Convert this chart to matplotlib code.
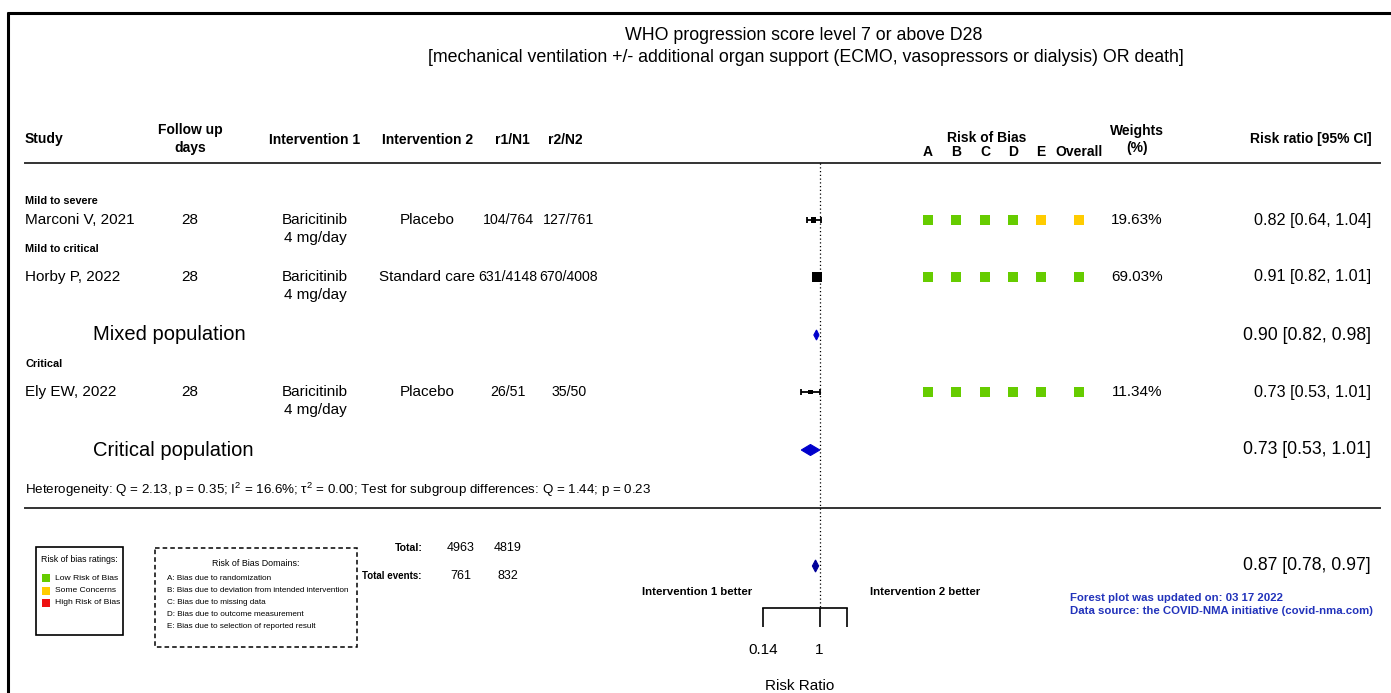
import numpy as np
import matplotlib.pyplot as plt
from matplotlib.patches import Rectangle, Polygon

plt.rcParams['font.family'] = ['Liberation Sans', 'DejaVu Sans']
plt.rcParams['mathtext.fontset'] = 'custom'
plt.rcParams['mathtext.rm'] = 'Liberation Sans'
plt.rcParams['mathtext.it'] = 'Liberation Sans:italic'

# data
subgroups = ['Mild to severe', 'Mild to critical', 'Critical']
studies = ['Marconi V, 2021', 'Horby P, 2022', 'Ely EW, 2022']
follow_up = [28, 28, 28]
intervention1 = ['Baricitinib', 'Baricitinib', 'Baricitinib']
dose = ['4 mg/day', '4 mg/day', '4 mg/day']
intervention2 = ['Placebo', 'Standard care', 'Placebo']
r1_n1 = ['104/764', '631/4148', '26/51']
r2_n2 = ['127/761', '670/4008', '35/50']
rr = np.array([0.82, 0.91, 0.73])
ci_lo = np.array([0.64, 0.82, 0.53])
ci_hi = np.array([1.04, 1.01, 1.01])
weights = [19.63, 69.03, 11.34]
rob = [['L', 'L', 'L', 'L', 'S', 'S'],
       ['L', 'L', 'L', 'L', 'L', 'L'],
       ['L', 'L', 'L', 'L', 'L', 'L']]
rob_cols = ['A', 'B', 'C', 'D', 'E', 'Overall']

pooled_names = ['Mixed population', 'Critical population']
pooled_rr = [0.90, 0.73]
pooled_lo = [0.82, 0.53]
pooled_hi = [0.98, 1.01]
overall_rr, overall_lo, overall_hi = 0.87, 0.78, 0.97
totals = [4963, 4819]
total_events = [761, 832]
xticks = [0.14, 1, 2.6]
xtick_labels = ['0.14', '1', '']

rob_colors = {'L': '#66CC00', 'S': '#FFCC00', 'H': '#EE1111'}
blue = '#0000CC'

# layout (pixel positions)
W, H = 1391, 693
study_y = [220, 277, 392]
sub_y = [201, 249, 364]
pooled_y = [335, 450]
col_fu, col_i1, col_i2 = 190, 315, 427
col_r1, col_r2 = 508, 569
rob_x = [928, 956, 985, 1013, 1041, 1079]
col_w, col_rr = 1137, 1371

fig = plt.figure(figsize=(W / 100, H / 100), dpi=100)
ax = fig.add_axes([0, 0, 1, 1])
ax.set_xlim(0, W)
ax.set_ylim(H, 0)
ax.axis('off')

# frame
ax.plot([7, W], [12.5, 12.5], color='k', lw=2.2, solid_capstyle='butt')
ax.plot([7.5, 7.5], [12, H], color='k', lw=2.2, solid_capstyle='butt')

# title
ax.text(804, 36, 'WHO progression score level 7 or above D28', ha='center', va='center', fontsize=12.8)
ax.text(806, 58, '[mechanical ventilation +/- additional organ support (ECMO, vasopressors or dialysis) OR death]',
        ha='center', va='center', fontsize=12.8)

# header
hb = dict(fontsize=10, fontweight='bold', va='center')
ax.text(25, 139, 'Study', ha='left', **hb)
ax.text(col_fu, 130, 'Follow up', ha='center', **hb)
ax.text(col_fu, 148, 'days', ha='center', **hb)
ax.text(col_i1, 140, 'Intervention 1', ha='center', **hb)
ax.text(col_i2, 140, 'Intervention 2', ha='center', **hb)
ax.text(512, 140, 'r1/N1', ha='center', **hb)
ax.text(565, 140, 'r2/N2', ha='center', **hb)
ax.text(987, 138, 'Risk of Bias', ha='center', **hb)
for x, c in zip(rob_x, rob_cols):
    ax.text(x, 152, c, ha='center', **hb)
ax.text(col_w, 131, 'Weights', ha='center', **hb)
ax.text(col_w, 148, '(%)', ha='center', **hb)
ax.text(1311, 139, 'Risk ratio [95% CI]', ha='center', **hb)
ax.plot([25, 1380], [163, 163], color='#333333', lw=1.4)
ax.plot([25, 1380], [508, 508], color='#333333', lw=1.4)

# study rows
for i in range(len(studies)):
    y = study_y[i]
    ax.text(25, sub_y[i], subgroups[i], ha='left', va='center', fontsize=7.8, fontweight='bold')
    ax.text(25, y, studies[i], ha='left', va='center', fontsize=11)
    ax.text(col_fu, y, str(follow_up[i]), ha='center', va='center', fontsize=11)
    ax.text(col_i1, y, intervention1[i], ha='center', va='center', fontsize=11)
    ax.text(col_i1, y + 18, dose[i], ha='center', va='center', fontsize=11)
    ax.text(col_i2, y, intervention2[i], ha='center', va='center', fontsize=11)
    ax.text(col_r1, y, r1_n1[i], ha='center', va='center', fontsize=10.2)
    ax.text(col_r2, y, r2_n2[i], ha='center', va='center', fontsize=10.2)
    ax.scatter(rob_x, [y] * 6, marker='s', s=48, c=[rob_colors[r] for r in rob[i]], linewidths=0)
    ax.text(col_w, y, f'{weights[i]:.2f}%', ha='center', va='center', fontsize=11)
    ax.text(col_rr, y, f'{rr[i]:.2f} [{ci_lo[i]:.2f}, {ci_hi[i]:.2f}]', ha='right', va='center', fontsize=11.6)

for i in range(len(pooled_names)):
    y = pooled_y[i]
    ax.text(93, y, pooled_names[i], ha='left', va='center', fontsize=14.5)
    ax.text(col_rr, y, f'{pooled_rr[i]:.2f} [{pooled_lo[i]:.2f}, {pooled_hi[i]:.2f}]',
            ha='right', va='center', fontsize=12.7)

ax.text(25, 490, 'Heterogeneity: Q = 2.13, p = 0.35; I$^{2}$ = 16.6%; \u03c4$^{2}$ = 0.00; '
        'Test for subgroup differences: Q = 1.44; p = 0.23', ha='left', va='center', fontsize=9.6)

# totals
ax.text(423, 548, 'Total:', ha='right', va='center', fontsize=7.6, fontweight='bold')
ax.text(421, 576, 'Total events:', ha='right', va='center', fontsize=7.0, fontweight='bold')
for x, t, e in zip([461, 508], totals, total_events):
    ax.text(x, 548, str(t), ha='center', va='center', fontsize=9)
    ax.text(x, 576, str(e), ha='center', va='center', fontsize=9)
ax.text(697, 592, 'Intervention 1 better', ha='center', va='center', fontsize=8.2, fontweight='bold')
ax.text(925, 592, 'Intervention 2 better', ha='center', va='center', fontsize=8.2, fontweight='bold')
ax.text(col_rr, 566, f'{overall_rr:.2f} [{overall_lo:.2f}, {overall_hi:.2f}]',
        ha='right', va='center', fontsize=12.7)
ax.text(1070, 598, 'Forest plot was updated on: 03 17 2022', ha='left', va='center',
        fontsize=8.2, fontweight='bold', color='#2233BB')
ax.text(1070, 611, 'Data source: the COVID-NMA initiative (covid-nma.com)', ha='left', va='center',
        fontsize=8.2, fontweight='bold', color='#2233BB')
ax.text(800, 686, 'Risk Ratio', ha='center', va='center', fontsize=11)

# legend: ratings
ax.add_patch(Rectangle((36, 547), 87, 88, fill=False, ec='k', lw=1.2))
ax.text(79.5, 560, 'Risk of bias ratings:', ha='center', va='center', fontsize=6.3)
for j, (k, lab) in enumerate(zip(['L', 'S', 'H'], ['Low Risk of Bias', 'Some Concerns', 'High Risk of Bias'])):
    ax.scatter([46], [578 + 12.5 * j], marker='s', s=34, c=rob_colors[k], linewidths=0)
    ax.text(55, 578 + 12.5 * j, lab, ha='left', va='center', fontsize=6.1)

# legend: domains
ax.add_patch(Rectangle((155, 548), 202, 99, fill=False, ec='k', lw=1.1, ls=(0, (3, 2))))
ax.text(256, 563, 'Risk of Bias Domains:', ha='center', va='center', fontsize=6.4)
domains = ['A: Bias due to randomization', 'B: Bias due to deviation from intended intervention',
           'C: Bias due to missing data', 'D: Bias due to outcome measurement',
           'E: Bias due to selection of reported result']
for j, d in enumerate(domains):
    ax.text(167, 578 + 12 * j, d, ha='left', va='center', fontsize=5.9)

# forest panel
fx = fig.add_axes([763 / W, 0, (847 - 763) / W, 1])
fx.set_xscale('log')
fx.set_xlim(0.14, 2.6)
fx.set_ylim(H, 0)
fx.patch.set_visible(False)
for s in ['left', 'right', 'top']:
    fx.spines[s].set_visible(False)
fx.spines['bottom'].set_position(('data', 608))
fx.spines['bottom'].set_linewidth(1.2)
fx.set_yticks([])
fx.xaxis.set_minor_locator(plt.NullLocator())
fx.set_xticks(xticks)
fx.set_xticklabels(xtick_labels)
fx.tick_params(axis='x', direction='out', length=13.5, width=1.2, pad=12, labelsize=11)

fx.plot([1, 1], [163, 608], ls=(0, (1, 2)), color='k', lw=0.9, clip_on=False)
fx.errorbar(rr, study_y, xerr=[rr - ci_lo, ci_hi - rr], fmt='none', ecolor='k',
            elinewidth=1.3, capsize=2.5, capthick=1.3, clip_on=False)
side_pt = 0.72 * 1.2 * np.sqrt(weights)
fx.scatter(rr, study_y, marker='s', s=side_pt ** 2, c='k', linewidths=0, zorder=3, clip_on=False)

for i in range(len(pooled_names)):
    y = pooled_y[i]
    h = 5 if i == 0 else 5.5
    fx.add_patch(Polygon([(pooled_lo[i], y), (pooled_rr[i], y - h), (pooled_hi[i], y), (pooled_rr[i], y + h)],
                         closed=True, fc=blue, ec=blue, lw=0.8, clip_on=False))
fx.add_patch(Polygon([(overall_lo, 566), (overall_rr, 560), (overall_hi, 566), (overall_rr, 572)],
                     closed=True, fc='#000099', ec='#000099', lw=0.8, clip_on=False))

fig.savefig('out.png', dpi=100)
